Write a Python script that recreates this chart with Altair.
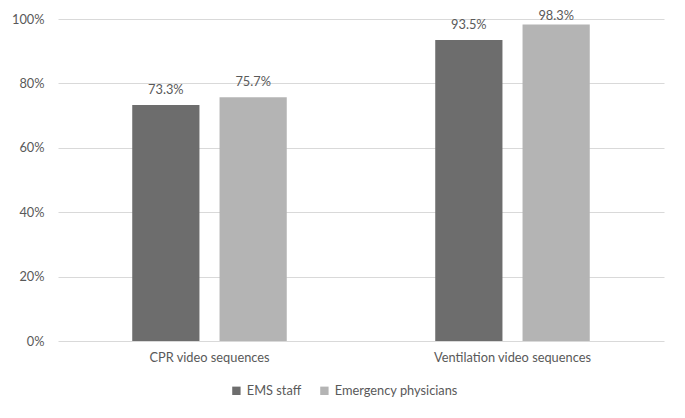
import altair as alt
import pandas as pd

categories = ["CPR video sequences", "Ventilation video sequences"]
series = ["EMS staff", "Emergency physicians"]
ems_values = [0.733, 0.935]
physician_values = [0.757, 0.983]

rows = []
for i, c in enumerate(categories):
    rows.append({"category": c, "group": series[0], "value": ems_values[i]})
    rows.append({"category": c, "group": series[1], "value": physician_values[i]})
df = pd.DataFrame(rows)

FONT = "Lato"
TXT = "#595959"

x = alt.X("category:N", sort=categories, title=None,
          scale=alt.Scale(paddingInner=0.49, paddingOuter=0.245),
          axis=alt.Axis(labelAngle=0, domain=False, ticks=False, labelPadding=10,
                        labelFontSize=12.8, labelColor=TXT, labelFont=FONT))
xo = alt.XOffset("group:N", sort=series,
                 scale=alt.Scale(paddingInner=0.23, paddingOuter=0))
color = alt.Color("group:N", sort=series, title=None,
                  scale=alt.Scale(domain=series, range=["#6d6d6d", "#b4b4b4"]),
                  legend=alt.Legend(orient="none", legendX=172, legendY=365,
                                    direction="horizontal", symbolType="square",
                                    symbolSize=70, symbolStrokeWidth=0,
                                    labelFontSize=12.8, labelColor=TXT, labelFont=FONT,
                                    columnPadding=16, labelOffset=4))

bars = alt.Chart(df).mark_bar().encode(
    x=x, xOffset=xo,
    y=alt.Y("value:Q", title=None,
            scale=alt.Scale(domain=[0, 1], nice=False),
            axis=alt.Axis(format=".0%", values=[0, 0.2, 0.4, 0.6, 0.8, 1.0],
                          domain=False, ticks=False, labelPadding=14,
                          gridColor="#d9d9d9", gridWidth=1,
                          labelFontSize=12.8, labelColor=TXT, labelFont=FONT)),
    color=color,
)

label_enc = dict(
    x=x, xOffset=xo,
    y=alt.Y("value:Q"),
    text=alt.Text("value:Q", format=".1%"),
)
labels_low = alt.Chart(df).transform_filter(alt.datum.value < 0.95).mark_text(
    dy=-15, fontSize=12.8, color=TXT, font=FONT).encode(**label_enc)
labels_high = alt.Chart(df).transform_filter(alt.datum.value >= 0.95).mark_text(
    dy=-8, fontSize=12.8, color=TXT, font=FONT).encode(**label_enc)

chart = (bars + labels_low + labels_high).properties(
    width=606, height=322,
    autosize=alt.AutoSizeParams(type="none"),
    padding={"left": 50, "top": 11, "right": 13, "bottom": 60},
    background="white",
).configure_view(stroke=None)

chart.save("out.html", embed_options={"renderer": "svg", "actions": False})
